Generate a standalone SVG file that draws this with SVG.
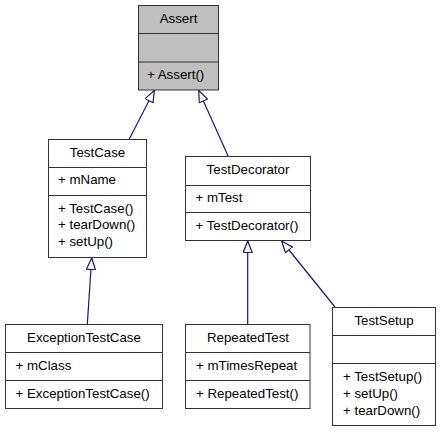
<svg xmlns="http://www.w3.org/2000/svg" width="440" height="432" viewBox="0 0 440 432">
<style>
.box{fill:#ffffff;stroke:#333333;stroke-width:1}
.gray{fill:#bfbfbf}
.div{stroke:#333333;stroke-width:1}
text{font-family:"Liberation Sans",Arial,sans-serif;font-size:13.3px;fill:#000000}
.c{text-anchor:middle}
.edge{stroke:#191970;stroke-width:1.2;fill:none;marker-end:url(#tri)}
</style>
<defs>
<marker id="tri" markerUnits="userSpaceOnUse" markerWidth="14" markerHeight="12" refX="12" refY="5" orient="auto">
<path d="M0.5,0.5 L12,5 L0.5,9.5 Z" fill="#ffffff" stroke="#191970" stroke-width="1.2"/>
</marker>
</defs>
<rect width="440" height="432" fill="#ffffff"/>
<g id="connectors">
<line class="edge" x1="129.3" y1="139" x2="154.3" y2="90.5"/>
<line class="edge" x1="228.3" y1="156.5" x2="198.7" y2="90.5"/>
<line class="edge" x1="87.3" y1="324.5" x2="91.7" y2="258"/>
<line class="edge" x1="247.7" y1="324.5" x2="247.7" y2="241"/>
<line class="edge" x1="335" y1="307" x2="281.7" y2="241"/>
</g>
<g id="Assert">
<rect class="box gray" x="138.5" y="5.5" width="80" height="84.5"/>
<line class="div" x1="138.5" y1="33.5" x2="218.5" y2="33.5"/>
<line class="div" x1="138.5" y1="62" x2="218.5" y2="62"/>
<text class="c" x="178.5" y="22.5">Assert</text>
<text x="147" y="79">+ Assert()</text>
</g>
<g id="TestCase">
<rect class="box" x="48.5" y="139.5" width="98" height="118"/>
<line class="div" x1="48.5" y1="167.5" x2="146.5" y2="167.5"/>
<line class="div" x1="48.5" y1="195.5" x2="146.5" y2="195.5"/>
<text class="c" x="97.5" y="157">TestCase</text>
<text x="58" y="184">+ mName</text>
<text x="58" y="212.5">+ TestCase()</text>
<text x="58" y="229">+ tearDown()</text>
<text x="58" y="246">+ setUp()</text>
</g>
<g id="TestDecorator">
<rect class="box" x="185.5" y="156.5" width="125" height="84"/>
<line class="div" x1="185.5" y1="185.5" x2="310.5" y2="185.5"/>
<line class="div" x1="185.5" y1="212.5" x2="310.5" y2="212.5"/>
<text class="c" x="248" y="174">TestDecorator</text>
<text x="195.5" y="201.5">+ mTest</text>
<text x="195.5" y="230">+ TestDecorator()</text>
</g>
<g id="ExceptionTestCase">
<rect class="box" x="5.5" y="324.5" width="157" height="84"/>
<line class="div" x1="5.5" y1="352.5" x2="162.5" y2="352.5"/>
<line class="div" x1="5.5" y1="380.5" x2="162.5" y2="380.5"/>
<text class="c" x="84" y="342">ExceptionTestCase</text>
<text x="15.5" y="370">+ mClass</text>
<text x="15.5" y="398">+ ExceptionTestCase()</text>
</g>
<g id="RepeatedTest">
<rect class="box" x="185.5" y="324.5" width="124.5" height="84"/>
<line class="div" x1="185.5" y1="352.5" x2="310" y2="352.5"/>
<line class="div" x1="185.5" y1="380.5" x2="310" y2="380.5"/>
<text class="c" x="248" y="342">RepeatedTest</text>
<text x="196" y="370">+ mTimesRepeat</text>
<text x="196" y="398">+ RepeatedTest()</text>
</g>
<g id="TestSetup">
<rect class="box" x="332.5" y="307.5" width="103" height="118"/>
<line class="div" x1="332.5" y1="335.5" x2="435.5" y2="335.5"/>
<line class="div" x1="332.5" y1="363.5" x2="435.5" y2="363.5"/>
<text class="c" x="384" y="325">TestSetup</text>
<text x="343" y="381">+ TestSetup()</text>
<text x="343" y="398">+ setUp()</text>
<text x="343" y="414.5">+ tearDown()</text>
</g>
</svg>
